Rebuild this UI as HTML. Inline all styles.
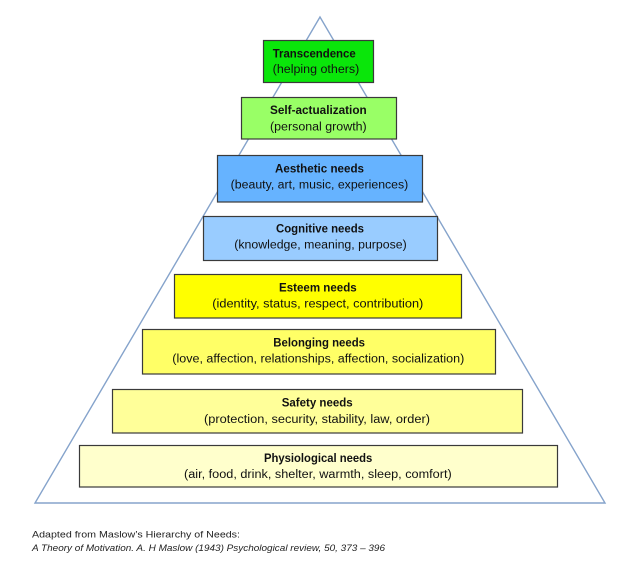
<!DOCTYPE html>
<html><head><meta charset="utf-8"><style>
html,body{margin:0;padding:0;background:#fff;}
svg{display:block;}
text{font-family:"Liberation Sans",Arial,sans-serif;fill:#111;}
.t{font-weight:bold;font-size:11.5px;}
.s{font-size:11.5px;}
.c{font-size:9px;fill:#222;}
</style></head><body>
<svg width="639" height="566" viewBox="0 0 639 566" xmlns="http://www.w3.org/2000/svg">
<rect width="639" height="566" fill="#fff"/>
<polygon points="320,17 35,503 605,503" fill="none" stroke="#85a3cb" stroke-width="1.4"/>
<g stroke="#3a3a3a" stroke-width="1.2">
<rect x="263.5" y="40.5" width="110" height="42" fill="#0ae60a"/>
<rect x="241.5" y="97.5" width="155" height="41.5" fill="#99ff66"/>
<rect x="217.5" y="155.5" width="205" height="46.5" fill="#66b3ff"/>
<rect x="203.5" y="216.5" width="234" height="44" fill="#99ccff"/>
<rect x="174.5" y="274.5" width="287" height="43.5" fill="#ffff00"/>
<rect x="142.5" y="329.5" width="353" height="44.5" fill="#ffff66"/>
<rect x="112.5" y="389.5" width="410" height="43.5" fill="#ffff99"/>
<rect x="79.5" y="445.5" width="478" height="41.5" fill="#ffffcc"/>
</g>
<text class="t" x="272.7" y="57.5" textLength="83" lengthAdjust="spacingAndGlyphs">Transcendence</text>
<text class="s" x="272.7" y="73" textLength="86.6" lengthAdjust="spacingAndGlyphs">(helping others)</text>
<text class="t" x="270" y="114" textLength="96.7" lengthAdjust="spacingAndGlyphs">Self-actualization</text>
<text class="s" x="270" y="130.7" textLength="96.7" lengthAdjust="spacingAndGlyphs">(personal growth)</text>
<text class="t" x="275" y="172.3" textLength="89" lengthAdjust="spacingAndGlyphs">Aesthetic needs</text>
<text class="s" x="230.7" y="188.3" textLength="177.6" lengthAdjust="spacingAndGlyphs">(beauty, art, music, experiences)</text>
<text class="t" x="276" y="232.7" textLength="88" lengthAdjust="spacingAndGlyphs">Cognitive needs</text>
<text class="s" x="234.3" y="248.3" textLength="172.4" lengthAdjust="spacingAndGlyphs">(knowledge, meaning, purpose)</text>
<text class="t" x="279" y="291.7" textLength="77.7" lengthAdjust="spacingAndGlyphs">Esteem needs</text>
<text class="s" x="212.3" y="307.3" textLength="211" lengthAdjust="spacingAndGlyphs">(identity, status, respect, contribution)</text>
<text class="t" x="273.3" y="346.7" textLength="91.7" lengthAdjust="spacingAndGlyphs">Belonging needs</text>
<text class="s" x="172.3" y="362.3" textLength="292" lengthAdjust="spacingAndGlyphs">(love, affection, relationships, affection, socialization)</text>
<text class="t" x="281.7" y="406.3" textLength="71" lengthAdjust="spacingAndGlyphs">Safety needs</text>
<text class="s" x="204" y="423" textLength="226" lengthAdjust="spacingAndGlyphs">(protection, security, stability, law, order)</text>
<text class="t" x="264" y="462" textLength="108.3" lengthAdjust="spacingAndGlyphs">Physiological needs</text>
<text class="s" x="184" y="478" textLength="267.7" lengthAdjust="spacingAndGlyphs">(air, food, drink, shelter, warmth, sleep, comfort)</text>
<text class="c" x="32" y="537.5" textLength="208" lengthAdjust="spacingAndGlyphs">Adapted from Maslow’s Hierarchy of Needs:</text>
<text class="c" x="32" y="551" textLength="353" lengthAdjust="spacingAndGlyphs" font-style="italic">A Theory of Motivation. A. H Maslow (1943) Psychological review, 50, 373 – 396</text>
</svg>
</body></html>
